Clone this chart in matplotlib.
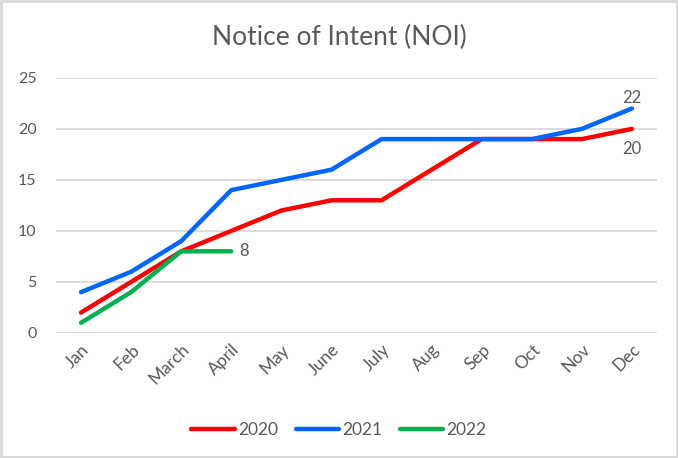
import matplotlib.pyplot as plt
from matplotlib.patches import Rectangle

months = ["Jan", "Feb", "March", "April", "May", "June", "July", "Aug", "Sep", "Oct", "Nov", "Dec"]
noi_2020 = [2, 5, 8, 10, 12, 13, 13, 16, 19, 19, 19, 20]
noi_2021 = [4, 6, 9, 14, 15, 16, 19, 19, 19, 19, 20, 22]
noi_2022 = [1, 4, 8, 8]

plt.rcParams['font.family'] = ['Lato', 'DejaVu Sans']
txt = '#595959'

fig = plt.figure(figsize=(6.78, 4.58), dpi=100)
fig.patches.append(Rectangle((0.002, 0.002), 0.996, 0.996, transform=fig.transFigure,
                             fill=False, edgecolor='#d9d9d9', linewidth=2))
ax = fig.add_axes([0.0826, 0.273, 0.8864, 0.557])

x = list(range(len(months)))
ax.plot(x, noi_2020, color='#ff0000', lw=3.2, label='2020', solid_capstyle='round')
ax.plot(x, noi_2021, color='#0066ff', lw=3.2, label='2021', solid_capstyle='round')
ax.plot(x[:len(noi_2022)], noi_2022, color='#00b050', lw=3.2, label='2022', solid_capstyle='round')

# data labels
ax.annotate(str(noi_2022[-1]), (len(noi_2022) - 1, noi_2022[-1]), xytext=(6, 0),
            textcoords='offset points', va='center', ha='left', fontsize=12, color=txt)
ax.annotate(str(noi_2021[-1]), (11, noi_2021[-1]), xytext=(0, 2),
            textcoords='offset points', va='bottom', ha='center', fontsize=12, color=txt)
ax.annotate(str(noi_2020[-1]), (11, noi_2020[-1]), xytext=(0, -9),
            textcoords='offset points', va='top', ha='center', fontsize=12, color=txt)

ax.set_xlim(-0.5, 11.5)
ax.set_ylim(0, 25)
ax.set_yticks(range(0, 26, 5))
ax.set_xticks(x)
ax.set_xticklabels(months, rotation=45, ha='right', rotation_mode='anchor')
ax.grid(axis='y', color='#d9d9d9', lw=1.3)
ax.set_axisbelow(True)
for s in ax.spines.values():
    s.set_visible(False)
ax.tick_params(length=0, colors=txt, labelsize=11.5)
ax.tick_params(axis='y', pad=14)
ax.tick_params(axis='x', pad=6, labelsize=12.5)

fig.text(0.5, 0.918, "Notice of Intent (NOI)", ha='center', va='center', fontsize=19, color=txt)

fig.legend(loc='center', bbox_to_anchor=(0.5, 0.061), ncol=3, frameon=False,
           fontsize=12.5, labelcolor=txt, handlelength=2.5, handletextpad=0.2, columnspacing=1.0)

fig.savefig('out.png', dpi=100)
